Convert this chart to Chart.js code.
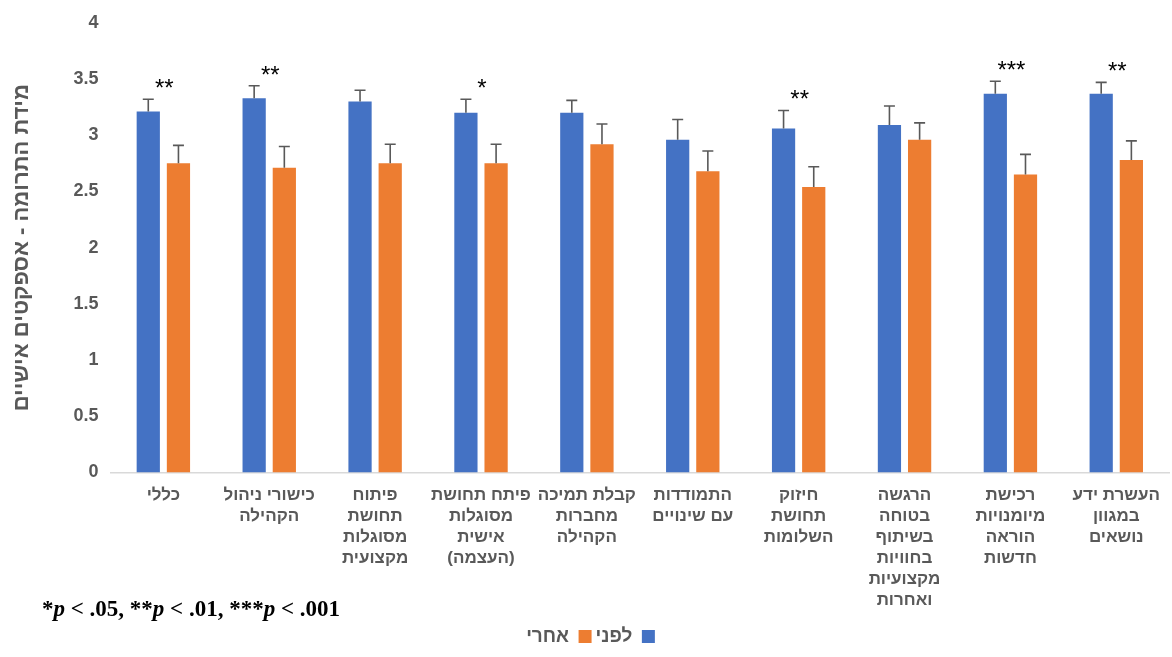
<!DOCTYPE html>
<html>
<head>
<meta charset="utf-8">
<script src="https://cdn.jsdelivr.net/npm/chart.js@4"></script>
<style>
  html, body { margin: 0; padding: 0; background: #fff; }
  #wrap { width: 1172px; height: 657px; }
</style>
</head>
<body>
<div id="wrap"><canvas id="myChart"></canvas></div>
<script>
const labels = [
    ['כללי'],
    ['כישורי ניהול', 'הקהילה'],
    ['פיתוח', 'תחושת', 'מסוגלות', 'מקצועית'],
    ['פיתח תחושת', 'מסוגלות', 'אישית', '(העצמה)'],
    ['קבלת תמיכה', 'מחברות', 'הקהילה'],
    ['התמודדות', 'עם שינויים'],
    ['חיזוק', 'תחושת', 'השלומות'],
    ['הרגשה', 'בטוחה', 'בשיתוף', 'בחוויות', 'מקצועיות', 'ואחרות'],
    ['רכישת', 'מיומנויות', 'הוראה', 'חדשות'],
    ['העשרת ידע', 'במגוון', 'נושאים']
];
const before = [3.21, 3.33, 3.30, 3.20, 3.20, 2.96, 3.06, 3.09, 3.37, 3.37];
const after = [2.75, 2.71, 2.75, 2.75, 2.92, 2.68, 2.54, 2.96, 2.65, 2.78];
const beforeErr = [0.11, 0.11, 0.10, 0.12, 0.11, 0.18, 0.16, 0.17, 0.11, 0.10];
const afterErr = [0.16, 0.19, 0.17, 0.17, 0.18, 0.18, 0.18, 0.15, 0.18, 0.17];
const sig = ['**', '**', '', '*', '', '', '**', '', '***', '**'];
const yTicks = [0, 0.5, 1, 1.5, 2, 2.5, 3, 3.5, 4];

const gray = '#595959';
const hebFont = "'Liberation Sans', 'DejaVu Sans', Arial, sans-serif";

// error bars (plus side only) + significance stars + footnote
const extras = {
    id: 'extras',
    afterDatasetsDraw(chart) {
        const ctx = chart.ctx;
        const y = chart.scales.y;
        const x = chart.scales.x;
        const errs = [beforeErr, afterErr];
        ctx.save();
        ctx.direction = 'ltr';
        ctx.strokeStyle = gray;
        ctx.lineWidth = 1.6;
        chart.data.datasets.forEach((ds, di) => {
            const meta = chart.getDatasetMeta(di);
            meta.data.forEach((bar, i) => {
                const top = y.getPixelForValue(ds.data[i] + errs[di][i]);
                ctx.beginPath();
                ctx.moveTo(bar.x, bar.y);
                ctx.lineTo(bar.x, top);
                ctx.moveTo(bar.x - 5.5, top);
                ctx.lineTo(bar.x + 5.5, top);
                ctx.stroke();
            });
        });
        ctx.fillStyle = '#000';
        ctx.font = '24px ' + hebFont;
        ctx.textAlign = 'center';
        ctx.textBaseline = 'alphabetic';
        sig.forEach((s, i) => {
            if (!s) return;
            const top = y.getPixelForValue(before[i] + beforeErr[i]);
            ctx.fillText(s, x.getPixelForValue(i) + 1, top - 3);
        });
        ctx.restore();
    },
    afterDraw(chart) {
        const ctx = chart.ctx;
        ctx.save();
        ctx.direction = 'ltr';
        ctx.fillStyle = '#000';
        ctx.textBaseline = 'middle';
        ctx.textAlign = 'left';
        const parts = [
            ['*', false], ['p', true], [' < .05, **', false], ['p', true],
            [' < .01, ***', false], ['p', true], [' < .001', false]
        ];
        let px = 42;
        const py = 610;
        parts.forEach(([t, it]) => {
            ctx.font = (it ? 'italic ' : '') + "bold 23px 'Liberation Serif', 'DejaVu Serif', serif";
            ctx.fillText(t, px, py);
            px += ctx.measureText(t).width;
        });
        ctx.restore();
    }
};

const chart = {
    type: 'bar',
    data: {
        labels: labels,
        datasets: [{
            label: 'לפני',
            data: before,
            backgroundColor: '#4472C4',
            categoryPercentage: 0.57,
            barPercentage: 0.77
        }, {
            label: 'אחרי',
            data: after,
            backgroundColor: '#ED7D31',
            categoryPercentage: 0.57,
            barPercentage: 0.77
        }]
    },
    plugins: [extras],
    options: {
        responsive: true,
        maintainAspectRatio: false,
        animation: false,
        layout: { padding: { left: 9, right: 0, top: 8, bottom: 1 } },
        plugins: {
            tooltip: { enabled: false },
            legend: {
                position: 'bottom',
                rtl: true,
                textDirection: 'rtl',
                labels: {
                    boxWidth: 13,
                    boxHeight: 13,
                    padding: 4,
                    color: gray,
                    font: { family: hebFont, size: 19, weight: 'bold' }
                }
            }
        },
        scales: {
            x: {
                grid: { display: false, drawTicks: false },
                border: { display: true, color: '#D9D9D9', width: 1.5 },
                ticks: {
                    maxRotation: 0,
                    autoSkip: false,
                    padding: 12,
                    color: gray,
                    font: { family: hebFont, size: 17, weight: 'bold', lineHeight: 1.24 }
                }
            },
            y: {
                min: 0,
                max: 4,
                afterBuildTicks: (axis) => { axis.ticks = yTicks.map(v => ({ value: v })); },
                grid: { display: false, drawTicks: false },
                border: { display: false },
                ticks: {
                    padding: 12,
                    color: gray,
                    callback: (v) => String(v),
                    font: { family: hebFont, size: 18, weight: 'bold' }
                },
                title: {
                    display: true,
                    text: 'מידת התרומה - אספקטים אישיים',
                    color: gray,
                    padding: { top: 0, bottom: 26 },
                    font: { family: hebFont, size: 22, weight: 'bold' }
                }
            }
        }
    }
};

const ctx = document.getElementById('myChart').getContext('2d');
const myChart = new Chart(ctx, chart);
</script>
</body>
</html>
